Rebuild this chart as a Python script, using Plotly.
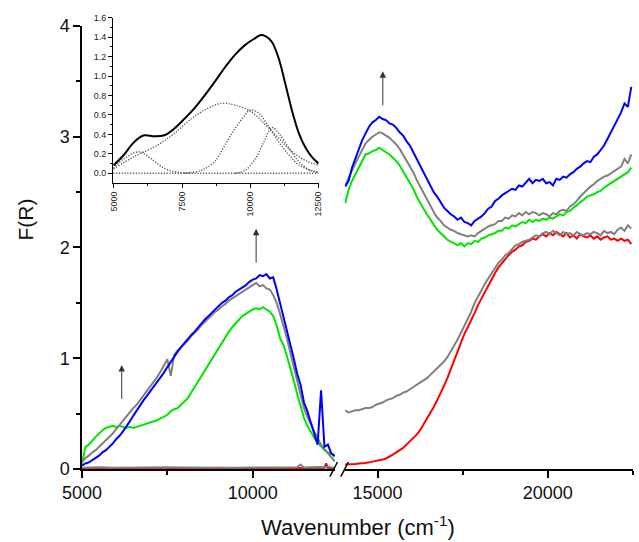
import plotly.graph_objects as go

# ---------------- data: left segment (5000-12400 cm-1, step 100) ----------------
wn_left = list(range(5000, 12401, 100))
blue_left = [0.03, 0.05, 0.06, 0.08, 0.10, 0.12, 0.15, 0.17, 0.20, 0.23,
             0.27, 0.30, 0.34, 0.38, 0.43, 0.48, 0.53, 0.58, 0.62, 0.66,
             0.70, 0.74, 0.78, 0.82, 0.87, 0.92, 0.97, 1.02, 1.06, 1.10,
             1.14, 1.17, 1.21, 1.24, 1.28, 1.31, 1.35, 1.38, 1.41, 1.44,
             1.47, 1.50, 1.52, 1.55, 1.57, 1.60, 1.62, 1.64, 1.66, 1.69,
             1.71, 1.72, 1.75, 1.74, 1.76, 1.72, 1.73, 1.62, 1.50, 1.36,
             1.24, 1.12, 1.00, 0.86, 0.76, 0.60, 0.52, 0.42, 0.33, 0.22,
             0.71, 0.20, 0.22, 0.14, 0.12]
gray_left = [0.06, 0.10, 0.12, 0.15, 0.17, 0.20, 0.23, 0.26, 0.29, 0.32,
             0.36, 0.40, 0.44, 0.47, 0.51, 0.55, 0.58, 0.62, 0.66, 0.70,
             0.74, 0.78, 0.83, 0.88, 0.93, 0.99, 0.84, 1.03, 1.07, 1.10,
             1.13, 1.16, 1.20, 1.23, 1.26, 1.30, 1.33, 1.36, 1.39, 1.42,
             1.44, 1.47, 1.49, 1.52, 1.54, 1.56, 1.58, 1.60, 1.62, 1.64,
             1.66, 1.68, 1.65, 1.66, 1.63, 1.62, 1.57, 1.50, 1.40, 1.30,
             1.18, 1.05, 0.93, 0.80, 0.68, 0.55, 0.47, 0.40, 0.34, 0.28,
             0.22, 0.18, 0.14, 0.10, 0.07]
green_left = [0.05, 0.20, 0.22, 0.26, 0.29, 0.32, 0.35, 0.37, 0.38, 0.39,
              0.38, 0.39, 0.38, 0.37, 0.38, 0.37, 0.38, 0.39, 0.40, 0.41,
              0.42, 0.43, 0.44, 0.46, 0.47, 0.49, 0.52, 0.54, 0.55, 0.58,
              0.61, 0.64, 0.69, 0.74, 0.79, 0.84, 0.90, 0.95, 1.00, 1.05,
              1.10, 1.15, 1.20, 1.24, 1.28, 1.32, 1.35, 1.38, 1.40, 1.42,
              1.44, 1.45, 1.44, 1.46, 1.44, 1.42, 1.38, 1.30, 1.18, 1.12,
              1.02, 0.92, 0.80, 0.68, 0.56, 0.46, 0.39, 0.33, 0.28, 0.24,
              0.20, 0.17, 0.15, 0.14, 0.11]
wn_left_base = [5000, 5500, 6000, 6500, 7000, 7500, 8000, 8500, 9000, 9500,
                10000, 10500, 11000, 11300, 11400, 11500, 11900, 12100, 12150, 12200, 12400]
red_left = [0.005, 0.004, 0.006, 0.005, 0.004, 0.006, 0.005, 0.004, 0.006, 0.005,
            0.004, 0.006, 0.005, 0.006, 0.008, 0.005, 0.006, 0.010, 0.050, 0.008, 0.006]
gray2_left = [0.012, 0.015, 0.011, 0.014, 0.012, 0.016, 0.013, 0.011, 0.015, 0.012,
              0.014, 0.012, 0.016, 0.015, 0.040, 0.014, 0.018, 0.012, 0.015, 0.020, 0.010]

# ---------------- data: right segment (14050-22450 cm-1, step 100) ----------------
wn_right = list(range(14050, 22451, 100))
blue_right = [2.55, 2.60, 2.72, 2.80, 2.88, 2.97, 3.03, 3.09, 3.13, 3.15,
              3.18, 3.16, 3.15, 3.12, 3.11, 3.08, 3.04, 3.01, 2.96, 2.92,
              2.86, 2.80, 2.73, 2.67, 2.61, 2.56, 2.50, 2.46, 2.41, 2.36,
              2.33, 2.30, 2.28, 2.25, 2.27, 2.23, 2.22, 2.20, 2.24, 2.26,
              2.28, 2.31, 2.35, 2.37, 2.42, 2.44, 2.47, 2.49, 2.51, 2.53,
              2.52, 2.56, 2.55, 2.59, 2.62, 2.58, 2.61, 2.60, 2.62, 2.58,
              2.59, 2.56, 2.62, 2.61, 2.64, 2.63, 2.66, 2.68, 2.71, 2.73,
              2.76, 2.78, 2.77, 2.82, 2.84, 2.88, 2.92, 2.98, 3.04, 3.10,
              3.17, 3.22, 3.30, 3.27, 3.45]
gray_right = [2.56, 2.63, 2.70, 2.76, 2.82, 2.88, 2.94, 2.97, 3.00, 3.02,
              3.04, 3.03, 3.01, 2.99, 2.96, 2.93, 2.89, 2.84, 2.79, 2.73,
              2.68, 2.61, 2.55, 2.49, 2.43, 2.37, 2.32, 2.27, 2.24, 2.20,
              2.18, 2.16, 2.15, 2.13, 2.12, 2.11, 2.10, 2.11, 2.10, 2.13,
              2.15, 2.17, 2.19, 2.20, 2.21, 2.24, 2.24, 2.27, 2.26, 2.29,
              2.28, 2.31, 2.29, 2.32, 2.30, 2.32, 2.31, 2.29, 2.31, 2.30,
              2.28, 2.31, 2.30, 2.33, 2.34, 2.33, 2.37, 2.39, 2.42, 2.46,
              2.49, 2.52, 2.55, 2.57, 2.60, 2.62, 2.64, 2.65, 2.67, 2.69,
              2.71, 2.73, 2.80, 2.76, 2.84]
green_right = [2.40, 2.52, 2.60, 2.66, 2.73, 2.79, 2.84, 2.85, 2.87, 2.88,
               2.90, 2.88, 2.86, 2.84, 2.81, 2.78, 2.74, 2.69, 2.64, 2.58,
               2.53, 2.46, 2.40, 2.35, 2.30, 2.25, 2.21, 2.16, 2.13, 2.10,
               2.07, 2.05, 2.04, 2.02, 2.04, 2.01, 2.04, 2.03, 2.06, 2.05,
               2.08, 2.09, 2.11, 2.12, 2.13, 2.15, 2.15, 2.18, 2.17, 2.20,
               2.19, 2.21, 2.23, 2.22, 2.25, 2.23, 2.25, 2.24, 2.26, 2.25,
               2.27, 2.26, 2.28, 2.30, 2.29, 2.32, 2.33, 2.36, 2.38, 2.41,
               2.43, 2.46, 2.47, 2.48, 2.50, 2.51, 2.54, 2.56, 2.58, 2.60,
               2.62, 2.64, 2.66, 2.68, 2.72]
red_right = [0.040, 0.040, 0.040, 0.045, 0.050, 0.050, 0.055, 0.060, 0.065, 0.070,
             0.075, 0.085, 0.095, 0.110, 0.130, 0.150, 0.170, 0.190, 0.220, 0.250,
             0.28, 0.31, 0.35, 0.40, 0.45, 0.50, 0.56, 0.62, 0.68, 0.75,
             0.82, 0.90, 0.98, 1.06, 1.14, 1.22, 1.28, 1.34, 1.41, 1.48,
             1.54, 1.60, 1.66, 1.72, 1.77, 1.82, 1.86, 1.90, 1.93, 1.96,
             1.98, 2.01, 2.02, 2.05, 2.06, 2.08, 2.07, 2.10, 2.12, 2.10,
             2.13, 2.11, 2.14, 2.12, 2.10, 2.13, 2.09, 2.11, 2.08, 2.12,
             2.10, 2.09, 2.11, 2.08, 2.10, 2.07, 2.09, 2.10, 2.07, 2.08,
             2.06, 2.08, 2.06, 2.07, 2.03]
gray2_right = [0.53, 0.51, 0.52, 0.53, 0.53, 0.54, 0.55, 0.55, 0.56, 0.58,
               0.59, 0.60, 0.62, 0.63, 0.64, 0.66, 0.67, 0.69, 0.70, 0.72,
               0.74, 0.76, 0.78, 0.80, 0.82, 0.85, 0.88, 0.91, 0.94, 0.97,
               1.01, 1.06, 1.11, 1.17, 1.23, 1.29, 1.35, 1.42, 1.50, 1.56,
               1.62, 1.67, 1.72, 1.77, 1.82, 1.86, 1.89, 1.93, 1.95, 1.99,
               2.02, 2.03, 2.05, 2.06, 2.07, 2.09, 2.11, 2.10, 2.13, 2.14,
               2.12, 2.15, 2.13, 2.11, 2.14, 2.12, 2.13, 2.11, 2.14, 2.12,
               2.11, 2.13, 2.12, 2.14, 2.13, 2.11, 2.15, 2.13, 2.14, 2.12,
               2.16, 2.18, 2.15, 2.20, 2.17]

# ---------------- inset data (deconvolution) ----------------
sum_wn = [4980, 5370, 5740, 6110, 6480, 6850, 7220, 7590, 7960, 8330, 8700, 9080, 9450,
          9820, 10190, 10370, 10560, 10800, 11050, 11300, 11550, 11790, 12040, 12290, 12510]
sum_val = [0.08, 0.19, 0.32, 0.39, 0.38, 0.39, 0.46, 0.56, 0.67, 0.80, 0.94, 1.09, 1.22,
           1.32, 1.39, 1.42, 1.41, 1.35, 1.18, 0.91, 0.63, 0.41, 0.26, 0.16, 0.10]
g1_wn = [4980, 5370, 5930, 6360, 6850, 7350, 7800]
g1_val = [0.05, 0.15, 0.22, 0.15, 0.05, 0.01, 0.0]
g2_wn = [4980, 5740, 6610, 7220, 7840, 8460, 8950, 9450, 10060, 10560, 11050, 11550, 12040, 12510]
g2_val = [0.045, 0.17, 0.29, 0.41, 0.56, 0.67, 0.72, 0.70, 0.63, 0.50, 0.36, 0.22, 0.13, 0.085]
g3_wn = [7590, 8210, 8700, 9080, 9450, 9820, 10000, 10310, 10680, 11050, 11420, 11790, 12290, 12510]
g3_val = [0.0, 0.03, 0.12, 0.29, 0.46, 0.60, 0.65, 0.62, 0.48, 0.32, 0.19, 0.085, 0.025, 0.01]
g4_wn = [9450, 9820, 10190, 10500, 10800, 11050, 11420, 11790, 12160, 12470]
g4_val = [0.0, 0.03, 0.15, 0.32, 0.47, 0.41, 0.26, 0.12, 0.035, 0.01]
base_wn = [4980, 12510]
base_val = [0.0, 0.0]

# arrows (x axis, x position, start y, end y)
arrows = [("x", 6163, 0.62, 0.94), ("x", 10099, 1.85, 2.17), ("x2", 15155, 3.27, 3.59)]

FONT = "Arial, Liberation Sans, sans-serif"
BLUE, GRAY, GREEN, RED = "#0000ff", "#808080", "#00e600", "#ff0000"

fig = go.Figure()

def add(x, y, color, xa):
    fig.add_trace(go.Scatter(x=x, y=y, mode="lines", xaxis=xa, yaxis="y",
                             line=dict(color=color, width=2), showlegend=False,
                             hoverinfo="skip"))

add(wn_left_base, red_left, RED, "x")
add(wn_left_base, gray2_left, GRAY, "x")
add(wn_left, green_left, GREEN, "x")
add(wn_left, gray_left, GRAY, "x")
add(wn_left, blue_left, BLUE, "x")
add(wn_right, red_right, RED, "x2")
add(wn_right, gray2_right, GRAY, "x2")
add(wn_right, green_right, GREEN, "x2")
add(wn_right, gray_right, GRAY, "x2")
add(wn_right, blue_right, BLUE, "x2")

# inset
for xs, ys in [(base_wn, base_val), (g1_wn, g1_val), (g2_wn, g2_val), (g3_wn, g3_val), (g4_wn, g4_val)]:
    fig.add_trace(go.Scatter(x=xs, y=ys, mode="lines", xaxis="x3", yaxis="y3",
                             line=dict(color="#555555", width=1.4, dash="1.2px,1.6px", shape="spline"),
                             showlegend=False, hoverinfo="skip"))
fig.add_trace(go.Scatter(x=sum_wn, y=sum_val, mode="lines", xaxis="x3", yaxis="y3",
                         line=dict(color="black", width=2, shape="spline"),
                         showlegend=False, hoverinfo="skip"))

L, R, T, B = 82, 2, 10, 73
W, H = 639, 542
PW, PH = W - L - R, H - T - B

def px(x):
    return (x - L) / PW

def py(y):
    return (H - B - y) / PH

axis_common = dict(showgrid=False, zeroline=False, showline=True, linecolor="black",
                   linewidth=1.5, ticks="outside", ticklen=7, tickwidth=1.5,
                   tickcolor="black", tickfont=dict(family=FONT, size=18, color="#111"))

fig.update_layout(
    width=W, height=H, margin=dict(l=L, r=R, t=T, b=B),
    paper_bgcolor="white", plot_bgcolor="white",
    xaxis=dict(domain=[0, px(337.2)], range=[5000, 12419], anchor="y",
               tickvals=[5000, 10000], tickformat="d",
               minor=dict(tickvals=[7500], ticks="outside", ticklen=4, tickwidth=1.5, tickcolor="black"),
               **axis_common),
    xaxis2=dict(domain=[px(346.5), 1], range=[14033, 22500], anchor="y",
                tickvals=[15000, 20000], tickformat="d",
                minor=dict(tickvals=[17500, 22500], ticks="outside", ticklen=4, tickwidth=1.5, tickcolor="black"),
                **axis_common),
    yaxis=dict(domain=[0, py(24)], range=[0, 4], anchor="x",
               tickvals=[0, 1, 2, 3, 4],
               minor=dict(tickvals=[0.5, 1.5, 2.5, 3.5], ticks="outside", ticklen=4, tickwidth=1.5, tickcolor="black"),
               **axis_common),
    xaxis3=dict(domain=[px(113.3), px(320.5)], range=[4970, 12520], anchor="y3",
                showgrid=False, zeroline=False, showline=True, linecolor="black", linewidth=1,
                ticks="outside", ticklen=4, tickwidth=1, tickcolor="black",
                tickvals=[5000, 7500, 10000, 12500], tickformat="d", tickangle=-90,
                minor=dict(tickvals=[6250, 8750, 11250], ticks="outside", ticklen=2, tickcolor="black"),
                tickfont=dict(family=FONT, size=9, color="#222")),
    yaxis3=dict(domain=[py(181.7), py(15.7)], range=[-0.1, 1.6], anchor="x3",
                showgrid=False, zeroline=False, showline=True, linecolor="black", linewidth=1,
                ticks="outside", ticklen=4, tickwidth=1, tickcolor="black",
                tickvals=[0, 0.2, 0.4, 0.6, 0.8, 1.0, 1.2, 1.4, 1.6], tickformat=".1f",
                minor=dict(tickvals=[0.1, 0.3, 0.5, 0.7, 0.9, 1.1, 1.3, 1.5], ticks="outside",
                           ticklen=2, tickcolor="black"),
                tickfont=dict(family=FONT, size=9, color="#222")),
)

# axis-break marks
for x0 in (331.7, 342.7):
    fig.add_shape(type="line", xref="paper", yref="paper",
                  x0=px(x0), y0=py(476.7), x1=px(x0 + 7.6), y1=py(462.0),
                  line=dict(color="black", width=1.5))

# arrows
for xa, x, y0, y1 in arrows:
    fig.add_annotation(x=x, y=y1, ax=x, ay=y0, xref=xa, yref="y", axref=xa, ayref="y",
                       text="", showarrow=True, arrowhead=2, arrowsize=1.3, arrowwidth=1,
                       arrowcolor="#333")

# axis titles
fig.add_annotation(x=px(359.5), y=py(526), xref="paper", yref="paper", showarrow=False,
                   xanchor="center", yanchor="middle",
                   text="Wavenumber (cm<sup>-1</sup>)", font=dict(family=FONT, size=22, color="#111"))
fig.add_annotation(x=px(25), y=py(218), xref="paper", yref="paper", showarrow=False,
                   xanchor="center", yanchor="middle",
                   text="F(R)", textangle=-90, font=dict(family=FONT, size=21, color="#111"))

fig.write_html("out.html", config={"displayModeBar": False},
               post_script="document.body.style.margin='0';document.body.style.overflow='hidden';")
